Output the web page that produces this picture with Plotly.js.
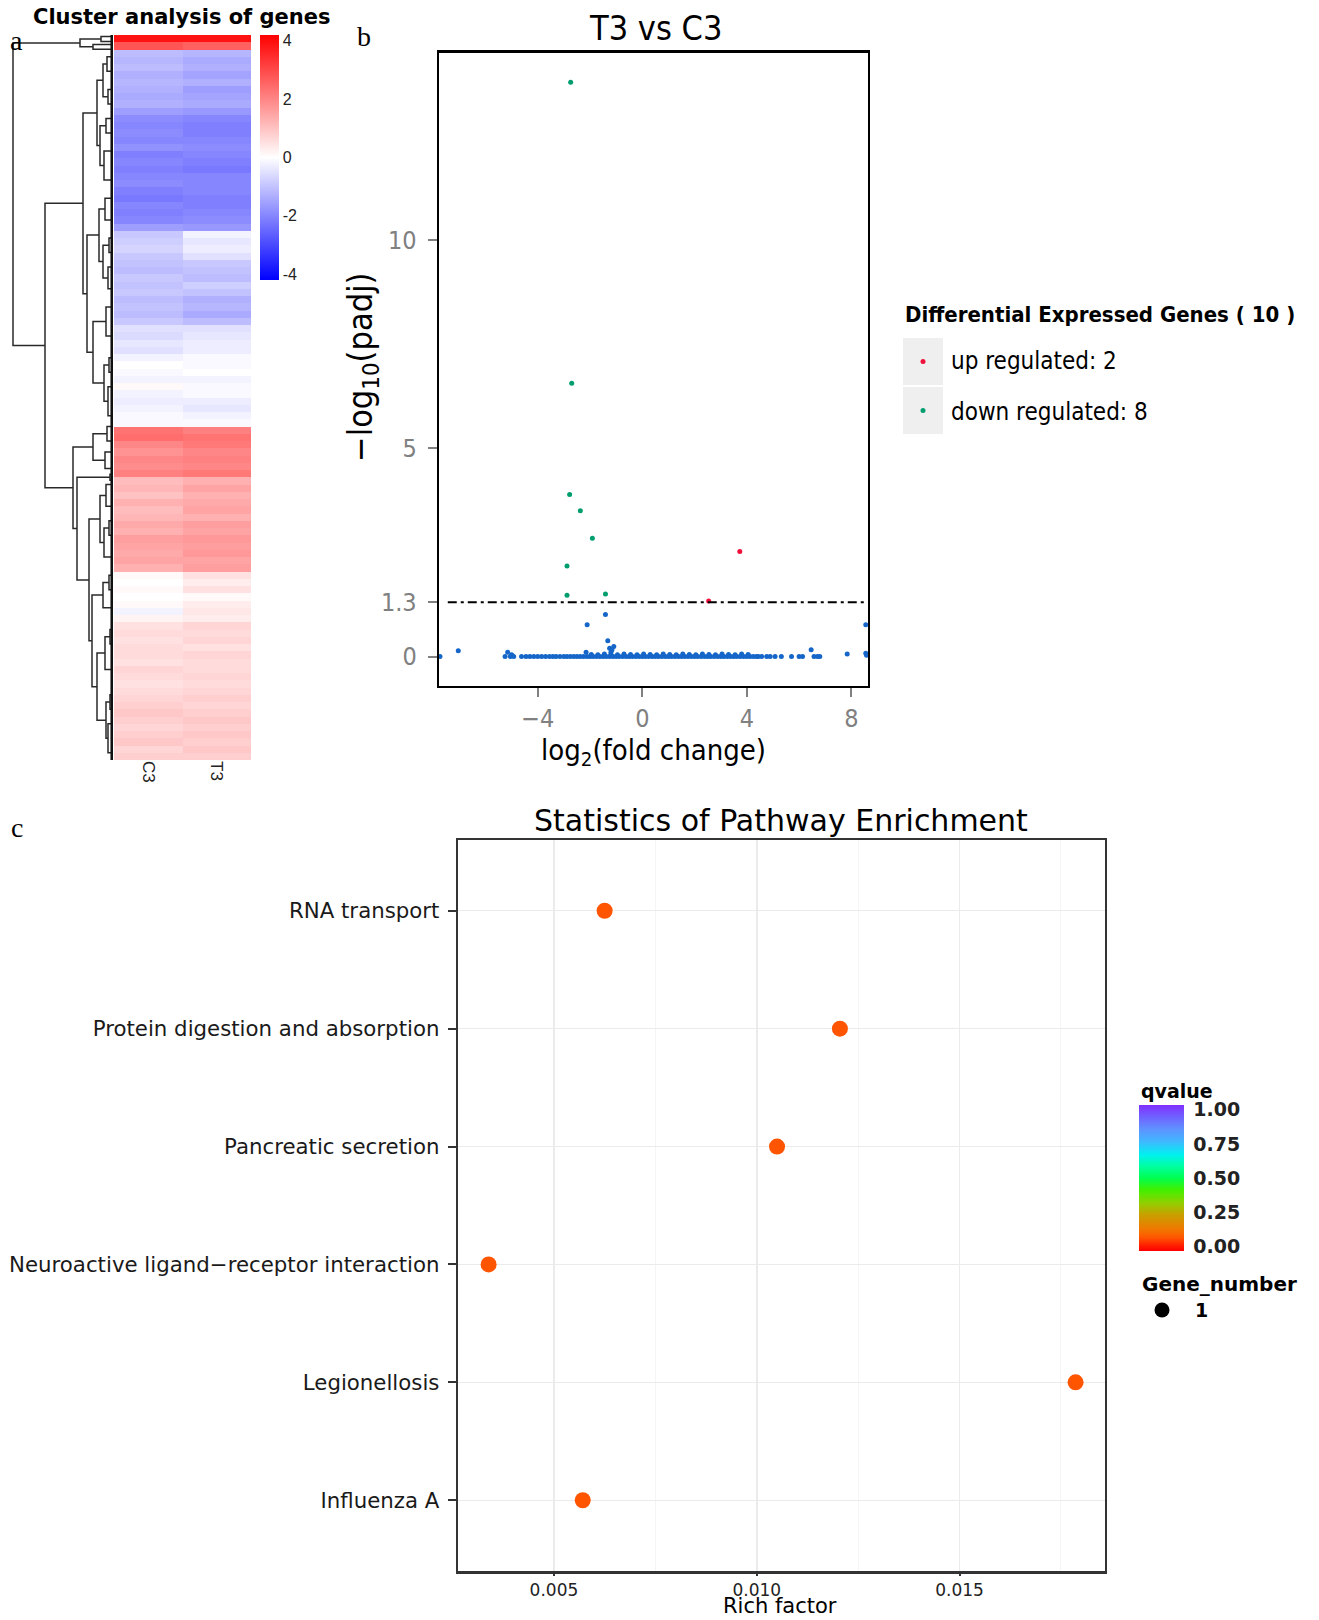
<!DOCTYPE html>
<html><head><meta charset="utf-8">
<script src="https://cdn.plot.ly/plotly-3.0.1.min.js"></script>
<style>html,body{margin:0;padding:0;background:#fff}#chart{width:1319px;height:1620px}</style>
</head><body><div id="chart"></div>
<script>
// ---------------- Panel a: cluster heatmap ----------------
const samples = ['C3', 'T3'];
const c3Expr = [3.9,2.8,-1.1,-1.2,-1.1,-1.3,-1.2,-1.3,-1.4,-1.3,-1.6,-1.9,-2.0,-1.9,-2.0,-1.8,-2.1,-2.0,-2.1,-2.0,-1.9,-2.1,-2.2,-2.0,-2.1,-2.0,-1.6,-0.9,-0.8,-0.7,-0.9,-1.0,-1.1,-0.9,-1.0,-0.9,-1.1,-1.0,-1.1,-0.9,-0.5,-0.6,-0.4,-0.5,-0.2,0.0,-0.1,-0.2,0.1,-0.2,-0.3,-0.2,-0.1,-0.1,2.3,2.4,2.0,1.8,2.0,1.9,2.1,1.1,1.2,1.0,1.3,1.1,1.2,1.4,1.3,1.6,1.5,1.4,1.5,1.3,0.1,0.0,0.1,0.0,0.1,-0.2,0.2,0.5,0.6,0.5,0.6,0.6,0.5,0.7,0.6,0.5,0.6,0.7,0.8,0.9,0.8,0.7,0.8,0.9,0.7,0.8];
const t3Expr = [3.9,2.6,-1.2,-1.4,-1.3,-1.5,-1.3,-1.6,-1.5,-1.4,-1.7,-2.0,-2.1,-2.1,-2.0,-1.9,-2.0,-2.1,-2.2,-2.0,-2.0,-2.0,-2.1,-2.1,-2.0,-1.9,-1.7,-0.2,-0.4,-0.3,-0.5,-0.9,-1.0,-1.1,-0.8,-1.0,-1.3,-1.2,-1.4,-1.1,-0.5,-0.4,-0.3,-0.3,-0.1,-0.1,0.0,-0.2,-0.1,-0.1,-0.3,-0.4,-0.2,-0.1,2.1,2.3,2.2,2.0,2.1,2.0,2.2,1.3,1.5,1.3,1.4,1.5,1.3,1.6,1.5,1.7,1.6,1.7,1.5,1.6,0.5,0.3,0.5,0.1,0.3,0.4,0.3,0.7,0.6,0.7,0.5,0.7,0.6,0.6,0.7,0.6,0.7,0.8,0.7,0.8,0.9,0.8,0.9,0.8,0.9,0.8];
const heatTicks = [-4, -2, 0, 2, 4];

// dendrogram merges: node height, position of upper child, position of lower child, heights of the two children
const dendroHeight      = [12, 20, 33, 6, 5, 10, 7, 9, 13, 16, 8, 4, 5, 10, 14, 7, 4, 5, 9, 20, 26, 30, 6, 8, 20, 7, 4, 9, 13, 4, 10, 3, 8, 3, 5, 7, 16, 21, 24, 3, 36, 40, 68, 100];
const dendroTopPos      = [0.2, 1.3, 0.55, 3.0, 7.5, 4, 11.5, 16, 12.5, 6.25, 22.5, 28, 32, 29, 24, 37.5, 44.5, 48.5, 45.5, 39.5, 27.6, 10.75, 54, 57.5, 55, 62, 67, 68, 63.5, 74.5, 75.5, 82, 83, 91, 95, 92, 85.25, 77.25, 66.75, 60.6, 61, 56.83, 23.22, 1.09];
const dendroBottomPos   = [0.9, 1.95, 1.625, 5.0, 9.5, 8.5, 13.5, 20, 18, 15.25, 25.5, 30, 35, 33.5, 31.25, 41.5, 46.5, 52.5, 50.5, 48, 43.75, 35.69, 56, 59.8, 58.65, 65, 69, 72, 70, 76.5, 79, 84, 87.5, 93, 99, 97, 94.5, 89.9, 83.56, 61.4, 75.16, 68.08, 62.45, 42.84];
const dendroTopChildH   = [0, 0, 12, 0, 0, 6, 0, 0, 7, 10, 0, 0, 0, 4, 8, 0, 0, 0, 4, 7, 14, 16, 0, 0, 6, 0, 0, 4, 7, 0, 4, 0, 3, 0, 0, 3, 8, 10, 13, 0, 3, 20, 30, 33];
const dendroBottomChildH= [0, 0, 20, 0, 0, 5, 0, 0, 9, 13, 0, 0, 0, 5, 10, 0, 0, 0, 5, 9, 20, 26, 0, 0, 8, 0, 0, 0, 9, 0, 0, 0, 0, 0, 0, 5, 7, 16, 21, 0, 24, 36, 40, 68];

// ---------------- Panel b: volcano ----------------
const upX = [3.73, 2.54];
const upY = [2.52, 1.33];
const downX = [-2.74, -2.70, -2.78, -2.37, -1.91, -2.88, -2.88, -1.41];
const downY = [13.78, 6.56, 3.89, 3.50, 2.84, 2.17, 1.47, 1.50];
const nsX = [-1.41,-2.11,-1.32,-1.25,-1.09,-1.16,-1.20,-7.04,8.55,6.46,7.84,8.55,8.58,-2.15,-5.15,-7.74,-5.0,
  -5.25,-5.05,-4.92,-4.62,-4.45,-4.3,-4.15,-4.0,-3.85,-3.7,-3.55,-3.42,-3.3,-3.15,-3.0,-2.88,-2.75,-2.62,-2.5,-2.38,-2.25,-2.12,-2.0,-1.88,-1.75,-1.62,-1.5,-1.38,-1.25,-1.12,-1.0,-0.88,-0.75,-0.62,-0.5,-0.38,-0.25,-0.12,0.0,0.12,0.25,0.38,0.5,0.62,0.75,0.88,1.0,1.12,1.25,1.38,1.5,1.62,1.75,1.88,2.0,2.12,2.25,2.38,2.5,2.62,2.75,2.88,3.0,3.12,3.25,3.38,3.5,3.62,3.75,3.88,4.0,4.12,4.25,4.37,4.44,4.57,4.76,4.89,5.08,5.32,5.71,6.0,6.13,6.57,6.70,6.79,
  -1.95,-1.7,-1.45,-1.2,-0.95,-0.7,-0.45,-0.2,0.05,0.3,0.55,0.8,1.05,1.3,1.55,1.8,2.05,2.3,2.55,2.8,3.05,3.3,3.55,3.8,4.05];
const nsY = [1.01,0.76,0.38,0.20,0.24,0.16,0.10,0.14,0.76,0.16,0.06,0.08,0.03,0.10,0.10,0.0,0.04,
  0,0,0,0,0,0,0,0,0,0,0,0,0,0,0,0,0,0,0,0,0,0,0,0,0,0,0,0,0,0,0,0,0,0,0,0,0,0,0,0,0,0,0,0,0,0,0,0,0,0,0,0,0,0,0,0,0,0,0,0,0,0,0,0,0,0,0,0,0,0,0,0,0,0,0,0,0,0,0,0,0,0,0,0,0,0,
  0.05,0.04,0.06,0.05,0.04,0.06,0.05,0.04,0.06,0.05,0.04,0.06,0.05,0.04,0.06,0.05,0.04,0.06,0.05,0.04,0.06,0.05,0.04,0.06,0.05];
const padjCut = 1.3;
const volcanoXTicks = [-4, 0, 4, 8];
const volcanoYTicks = [0, 1.3, 5, 10];
const legendNames = ['up regulated: 2', 'down regulated: 8'];

// ---------------- Panel c: KEGG enrichment ----------------
const pathwayNames = ['RNA transport', 'Protein digestion and absorption', 'Pancreatic secretion', 'Neuroactive ligand\u2212receptor interaction', 'Legionellosis', 'Influenza A'];
const richFactor = [0.00625, 0.01205, 0.0105, 0.00339, 0.01786, 0.00571];
const qValue = [0.06, 0.06, 0.06, 0.06, 0.06, 0.06];
const geneNumber = [1, 1, 1, 1, 1, 1];
const richTicks = [0.005, 0.010, 0.015];
const qTicks = [0, 0.25, 0.5, 0.75, 1.0];

// ---------------- helpers ----------------
const W = 1319, H = 1620;
const X = p => p / W, Y = p => 1 - p / H;
const NARROW = "'Liberation Sans Narrow', 'Arial Narrow', 'DejaVu Sans Condensed', Roboto, sans-serif";
const WIDE = "'DejaVu Sans', Verdana, sans-serif";
const SERIF = "'Liberation Serif', 'Times New Roman', serif";

const rowPos = c3Expr.map((_, i) => i + 0.5);
const z = c3Expr.map((v, i) => [v, t3Expr[i]]);

const dx = [], dy = [];
dendroHeight.forEach((h, i) => {
  dx.push(dendroTopChildH[i], h, h, dendroBottomChildH[i], null);
  dy.push(dendroTopPos[i], dendroTopPos[i], dendroBottomPos[i], dendroBottomPos[i], null);
});

const rainbow = [[0,'#FF0000'],[0.04,'#FF2000'],[0.09,'#FF5500'],[0.15,'#F07800'],[0.25,'#C8A000'],[0.33,'#90D000'],[0.42,'#40F000'],[0.5,'#00FF50'],[0.58,'#00FFA0'],[0.66,'#00F0F0'],[0.75,'#40B8FF'],[0.84,'#6090FF'],[0.92,'#7060FF'],[1,'#8030FF']];

const traces = [
  { type: 'heatmap', x: samples, y: rowPos, z: z, xaxis: 'x', yaxis: 'y',
    zmin: -4.2, zmax: 4.2, colorscale: [[0,'#0000FF'],[0.5,'#FFFFFF'],[1,'#FF0000']],
    hoverinfo: 'skip',
    colorbar: { x: X(260), xanchor: 'left', y: Y(35), yanchor: 'top', len: 245, lenmode: 'pixels',
      thickness: 19, thicknessmode: 'pixels', xpad: 0, ypad: 0, outlinewidth: 0,
      tickvals: heatTicks, ticktext: heatTicks.map(String), ticks: '',
      tickfont: { family: 'Liberation Sans, Arial, sans-serif', size: 16, color: '#222' } } },
  { type: 'scatter', mode: 'lines', x: dx, y: dy, xaxis: 'x2', yaxis: 'y',
    line: { color: '#2a2a2a', width: 1.5 }, hoverinfo: 'skip', connectgaps: false },
  { type: 'scatter', mode: 'lines', x: [0.8, 0.8], y: [0, 100], xaxis: 'x2', yaxis: 'y',
    line: { color: '#111', width: 3.5 }, hoverinfo: 'skip' },

  { type: 'scatter', mode: 'markers', x: nsX, y: nsY, xaxis: 'x3', yaxis: 'y3',
    marker: { size: 5, color: '#1566C8' }, cliponaxis: false, hoverinfo: 'x+y' },
  { type: 'scatter', mode: 'markers', x: downX, y: downY, xaxis: 'x3', yaxis: 'y3',
    marker: { size: 5, color: '#009E6E' }, cliponaxis: false },
  { type: 'scatter', mode: 'markers', x: upX, y: upY, xaxis: 'x3', yaxis: 'y3',
    marker: { size: 5, color: '#F0103C' }, cliponaxis: false },
  // legend keys for panel b
  { type: 'scatter', mode: 'markers', x: [0.5, 0.5], y: [0, 1], xaxis: 'x5', yaxis: 'y5',
    marker: { size: 5, color: ['#F0103C', '#009E6E'] }, hoverinfo: 'skip' },

  { type: 'scatter', mode: 'markers', x: richFactor, y: pathwayNames, xaxis: 'x4', yaxis: 'y4',
    marker: { size: 16, color: qValue, cmin: -0.035, cmax: 1.035, colorscale: rainbow, showscale: true,
      colorbar: { x: X(1139), xanchor: 'left', y: Y(1105), yanchor: 'top', len: 146, lenmode: 'pixels',
        thickness: 45, thicknessmode: 'pixels', xpad: 0, ypad: 0, outlinewidth: 0,
        tickvals: qTicks, ticktext: qTicks.map(v => v.toFixed(2)), ticks: 'outside', ticklen: 6,
        tickcolor: 'rgba(0,0,0,0)', tickwidth: 1,
        tickfont: { family: WIDE, size: 19, color: '#222', weight: 'bold' } } } },
  // legend key for Gene_number
  { type: 'scatter', mode: 'markers', x: [0.5], y: [0.5], xaxis: 'x6', yaxis: 'y6',
    marker: { size: 15, color: '#000' }, hoverinfo: 'skip' }
];

const hidden = { visible: false, fixedrange: true };
function note(text, x, y, size, family, extra) {
  return Object.assign({ text: text, x: X(x), y: Y(y), xref: 'paper', yref: 'paper', showarrow: false,
    xanchor: 'center', yanchor: 'middle', font: { family: family, size: size, color: '#000' } }, extra || {});
}

const layout = {
  width: W, height: H, margin: { l: 0, r: 0, t: 0, b: 0 }, showlegend: false,
  paper_bgcolor: '#fff', plot_bgcolor: 'rgba(0,0,0,0)',
  // panel a
  xaxis: { domain: [X(114), X(251)], anchor: 'y', type: 'category', showgrid: false, zeroline: false,
    showline: false, ticks: '', tickangle: 90,
    tickfont: { family: 'Liberation Sans, Arial, sans-serif', size: 17, color: '#222' } },
  yaxis: { domain: [Y(760), Y(35)], anchor: 'x', range: [100, 0], visible: false },
  xaxis2: { domain: [0, X(113)], anchor: 'y', range: [113, 0], visible: false },
  // panel b
  xaxis3: { domain: [X(439.2), X(867.6)], anchor: 'y3', range: [-7.77, 8.62], showgrid: false, zeroline: false,
    showline: true, mirror: true, linecolor: '#000', linewidth: 2.5,
    tickvals: volcanoXTicks, ticktext: volcanoXTicks.map(v => v < 0 ? '\u2212' + Math.abs(v) : String(v)),
    ticks: 'outside', ticklen: 9, tickwidth: 2, tickcolor: '#808080',
    tickfont: { family: NARROW, size: 25, color: '#808080' } },
  yaxis3: { domain: [Y(685.7), Y(52.7)], anchor: 'x3', range: [-0.70, 14.49], showgrid: false, zeroline: false,
    showline: true, mirror: true, linecolor: '#000', linewidth: 2.5,
    tickvals: volcanoYTicks, ticktext: volcanoYTicks.map(String),
    ticks: 'outside', ticklen: 9, tickwidth: 2, tickcolor: '#808080', ticklabelstandoff: 6,
    tickfont: { family: NARROW, size: 25, color: '#808080' } },
  xaxis5: Object.assign({ domain: [X(903), X(943)], anchor: 'y5', range: [0, 1] }, hidden),
  yaxis5: Object.assign({ domain: [Y(435), Y(337)], anchor: 'x5', range: [1.5, -0.5] }, hidden),
  // panel c
  xaxis4: { domain: [X(458.2), X(1104.8)], anchor: 'y4', range: [0.00264, 0.01858], zeroline: false,
    showgrid: true, gridcolor: '#EBEBEB', gridwidth: 1.5,
    minor: { tickvals: [0.0025, 0.0075, 0.0125, 0.0175], showgrid: true, gridcolor: '#F5F5F5', gridwidth: 1, ticks: '' },
    showline: true, mirror: true, linecolor: '#333', linewidth: 2.5,
    tickvals: richTicks, ticktext: richTicks.map(v => v.toFixed(3)),
    ticks: 'outside', ticklen: 2, tickwidth: 2, tickcolor: '#333',
    tickfont: { family: WIDE, size: 17, color: '#222' } },
  yaxis4: { domain: [Y(1571), Y(840)], anchor: 'x4', type: 'category',
    categoryorder: 'array', categoryarray: pathwayNames.slice().reverse(), range: [-0.6, 5.6],
    showgrid: true, gridcolor: '#EBEBEB', gridwidth: 1.5, zeroline: false,
    showline: true, mirror: true, linecolor: '#333', linewidth: 2.5,
    ticks: 'outside', ticklen: 8, tickwidth: 2, tickcolor: '#333', ticklabelstandoff: 4,
    tickfont: { family: WIDE, size: 21.3, color: '#1a1a1a' } },
  xaxis6: Object.assign({ domain: [X(1148), X(1176)], anchor: 'y6', range: [0, 1] }, hidden),
  yaxis6: Object.assign({ domain: [Y(1325), Y(1295)], anchor: 'x6', range: [0, 1] }, hidden),

  shapes: [
    { type: 'line', xref: 'x3 domain', yref: 'y3', x0: 0.02, x1: 1, y0: padjCut, y1: padjCut,
      line: { color: '#000', width: 2, dash: '9px,4px,3px,4px' } },
    { type: 'rect', xref: 'x5', yref: 'y5', x0: 0, x1: 1, y0: -0.48, y1: 0.48, fillcolor: '#EFEFEF', line: { width: 0 }, layer: 'below' },
    { type: 'rect', xref: 'x5', yref: 'y5', x0: 0, x1: 1, y0: 0.52, y1: 1.48, fillcolor: '#EFEFEF', line: { width: 0 }, layer: 'below' }
  ],

  annotations: [
    note('a', 16, 40, 28, SERIF),
    note('b', 364, 37, 28, SERIF),
    note('c', 17, 828, 28, SERIF),
    note('<b>Cluster analysis of genes</b>', 182, 17, 21, WIDE),

    note('T3 vs C3', 655, 28, 34, NARROW),
    note('log<sub>2</sub>(fold change)', 653, 752, 29, NARROW),
    note('\u2212log<sub>10</sub>(padj)', 362, 367, 34, NARROW, { textangle: -90 }),
    note('<b>Differential Expressed Genes ( 10 )</b>', 903, 315, 22, NARROW, { xanchor: 'left' }),
    note(legendNames[0], 949, 361, 24, NARROW, { xanchor: 'left' }),
    note(legendNames[1], 949, 412, 24, NARROW, { xanchor: 'left' }),

    note('Statistics of Pathway Enrichment', 781, 820, 30, WIDE),
    note('Rich factor', 780, 1606, 21, WIDE),
    note('<b>qvalue</b>', 1139, 1091, 19, WIDE, { xanchor: 'left' }),
    note('<b>Gene_number</b>', 1140, 1284, 20, WIDE, { xanchor: 'left' }),
    note('<b>' + geneNumber[0] + '</b>', 1193, 1310, 19, WIDE, { xanchor: 'left' })
  ]
};

Plotly.newPlot('chart', traces, layout, { staticPlot: true, displayModeBar: false });
</script>
</body></html>
